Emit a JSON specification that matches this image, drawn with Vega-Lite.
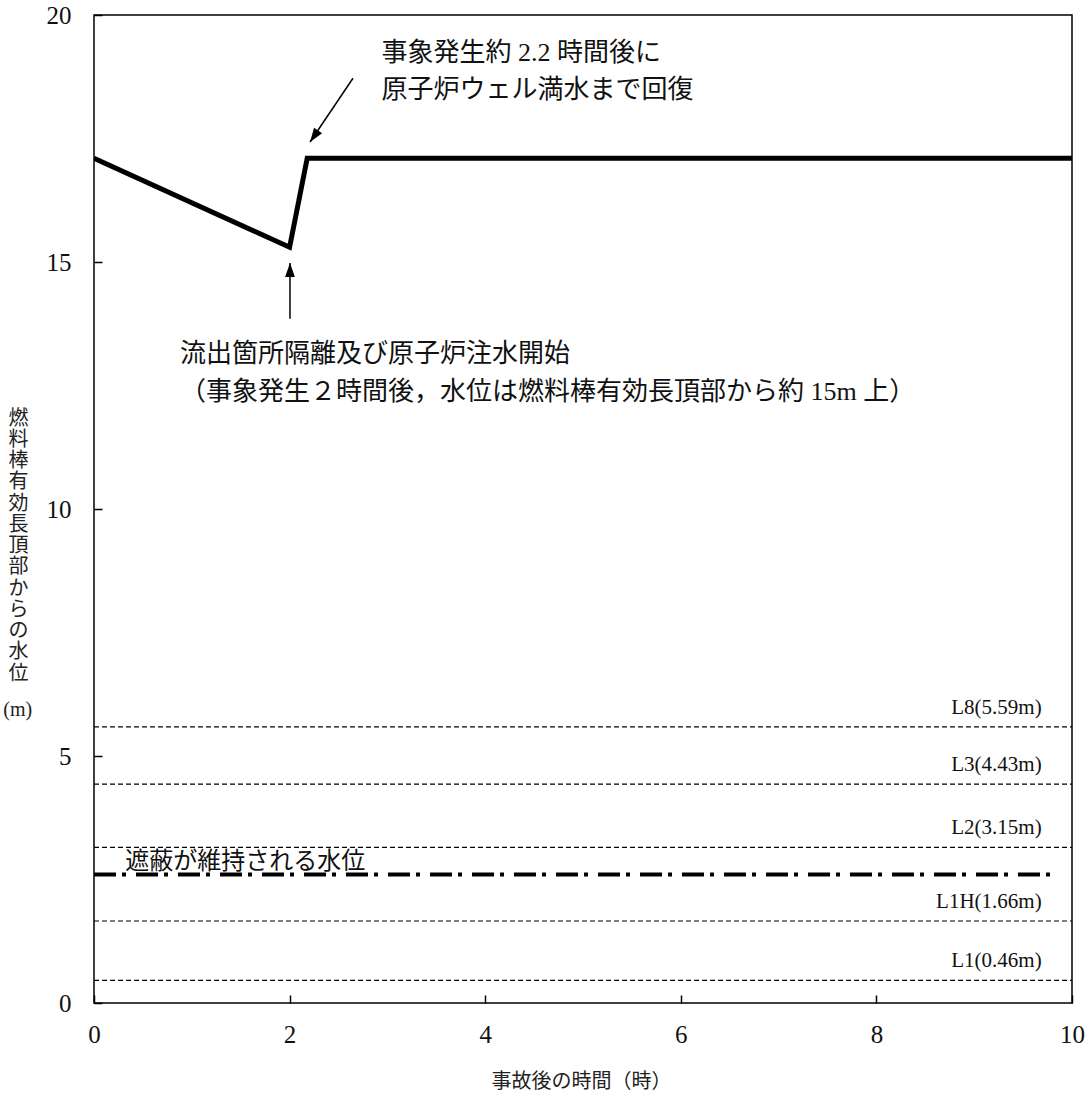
{
  "$schema": "https://vega.github.io/schema/vega-lite/v6.json",
  "width": 978,
  "height": 988,
  "autosize": {"type": "none"},
  "padding": {"left": 94, "top": 15, "right": 19, "bottom": 94},
  "background": "white",
  "config": {
    "view": {"stroke": "black", "strokeWidth": 1.5},
    "font": "Liberation Serif, Noto Sans CJK JP",
    "axis": {
      "domain": false,
      "grid": false,
      "ticks": true,
      "tickColor": "black",
      "tickSize": -8,
      "tickWidth": 1.5,
      "labelFont": "Liberation Serif",
      "labelFontSize": 25,
      "labelColor": "#111",
      "labelFlush": false,
      "labelOverlap": false,
      "titleFont": "Liberation Serif, Noto Sans CJK JP",
      "titleFontWeight": "normal",
      "titleColor": "#222",
      "titleFontSize": 20
    }
  },
  "datasets": {
    "water": [
      {"t": 0, "h": 17.1},
      {"t": 2, "h": 15.3},
      {"t": 2.18, "h": 17.1},
      {"t": 10, "h": 17.1}
    ],
    "levels": [
      {"name": "L8", "h": 5.59, "label": "L8(5.59m)"},
      {"name": "L3", "h": 4.43, "label": "L3(4.43m)"},
      {"name": "L2", "h": 3.15, "label": "L2(3.15m)"},
      {"name": "L1H", "h": 1.66, "label": "L1H(1.66m)"},
      {"name": "L1", "h": 0.46, "label": "L1(0.46m)"}
    ],
    "shield": [
      {"t0": 0, "t1": 9.8, "h": 2.6, "label": "遮蔽が維持される水位"}
    ],
    "unit": [
      {"label": "(m)"}
    ],
    "arrows": [
      {"x": 2.648, "y": 18.72, "x2": 2.209, "y2": 17.43, "dir": 215},
      {"x": 2.004, "y": 13.85, "x2": 2.004, "y2": 14.98, "dir": 0}
    ],
    "notes": [
      {"x": 2.94, "y": 19.07, "label": "事象発生約 2.2 時間後に"},
      {"x": 2.94, "y": 18.32, "label": "原子炉ウェル満水まで回復"},
      {"x": 0.88, "y": 12.98, "label": "流出箇所隔離及び原子炉注水開始"},
      {"x": 0.88, "y": 12.2, "label": "（事象発生２時間後，水位は燃料棒有効長頂部から約 15m 上）"}
    ]
  },
  "layer": [
    {
      "data": {"name": "water"},
      "mark": {"type": "line", "color": "black", "strokeWidth": 5, "strokeJoin": "miter", "clip": true},
      "encoding": {
        "x": {
          "field": "t", "type": "quantitative",
          "scale": {"domain": [0, 10], "nice": false, "zero": false},
          "axis": {
            "values": [0, 2, 4, 6, 8, 10],
            "format": "d",
            "labelPadding": 27,
            "title": "事故後の時間（時）",
            "titleX": 487,
            "titleY": 78,
            "titleAlign": "center",
            "titleBaseline": "middle",
            "titleAnchor": null
          }
        },
        "y": {
          "field": "h", "type": "quantitative",
          "scale": {"domain": [0, 20], "nice": false, "zero": false},
          "axis": {
            "values": [0, 5, 10, 15, 20],
            "format": "d",
            "labelPadding": 31,
            "title": ["燃", "料", "棒", "有", "効", "長", "頂", "部", "か", "ら", "の", "水", "位"],
            "titleAngle": 0,
            "titleAlign": "center",
            "titleBaseline": "top",
            "titleLineHeight": 21.25,
            "titleX": -76,
            "titleY": 393
          }
        }
      }
    },
    {
      "data": {"name": "unit"},
      "mark": {"type": "text", "align": "center", "baseline": "middle", "fontSize": 20, "font": "Liberation Serif", "color": "#222", "clip": false},
      "encoding": {
        "x": {"datum": -0.78, "type": "quantitative"},
        "y": {"datum": 5.93, "type": "quantitative"},
        "text": {"field": "label"}
      }
    },
    {
      "data": {"name": "levels"},
      "mark": {"type": "rule", "color": "black", "strokeWidth": 1.2, "strokeDash": [5, 3]},
      "encoding": {
        "x": {"datum": 0, "type": "quantitative"},
        "x2": {"datum": 10},
        "y": {"field": "h", "type": "quantitative"}
      }
    },
    {
      "data": {"name": "levels"},
      "mark": {"type": "text", "align": "right", "baseline": "middle", "dy": -19, "fontSize": 21, "font": "Liberation Serif", "color": "#111"},
      "encoding": {
        "x": {"datum": 9.69, "type": "quantitative"},
        "y": {"field": "h", "type": "quantitative"},
        "text": {"field": "label"}
      }
    },
    {
      "data": {"name": "shield"},
      "mark": {"type": "rule", "color": "black", "strokeWidth": 4, "strokeDash": [22, 6, 4, 10]},
      "encoding": {
        "x": {"field": "t0", "type": "quantitative"},
        "x2": {"field": "t1"},
        "y": {"field": "h", "type": "quantitative"}
      }
    },
    {
      "data": {"name": "shield"},
      "mark": {"type": "text", "align": "left", "baseline": "alphabetic", "dy": -6, "fontSize": 24, "font": "Noto Sans CJK JP", "color": "#111"},
      "encoding": {
        "x": {"datum": 0.32, "type": "quantitative"},
        "y": {"field": "h", "type": "quantitative"},
        "text": {"field": "label"}
      }
    },
    {
      "data": {"name": "arrows"},
      "mark": {"type": "rule", "color": "black", "strokeWidth": 1.5},
      "encoding": {
        "x": {"field": "x", "type": "quantitative"},
        "y": {"field": "y", "type": "quantitative"},
        "x2": {"field": "x2"},
        "y2": {"field": "y2"}
      }
    },
    {
      "data": {"name": "arrows"},
      "mark": {"type": "point", "filled": true, "color": "black", "opacity": 1, "size": 784, "shape": "M0,0L-0.35,1L0.35,1Z"},
      "encoding": {
        "x": {"field": "x2", "type": "quantitative"},
        "y": {"field": "y2", "type": "quantitative"},
        "angle": {"field": "dir", "type": "quantitative", "scale": null}
      }
    },
    {
      "data": {"name": "notes"},
      "mark": {"type": "text", "align": "left", "baseline": "alphabetic", "fontSize": 26, "font": "Liberation Serif, Noto Sans CJK JP", "color": "#111"},
      "encoding": {
        "x": {"field": "x", "type": "quantitative"},
        "y": {"field": "y", "type": "quantitative"},
        "text": {"field": "label"}
      }
    }
  ]
}
